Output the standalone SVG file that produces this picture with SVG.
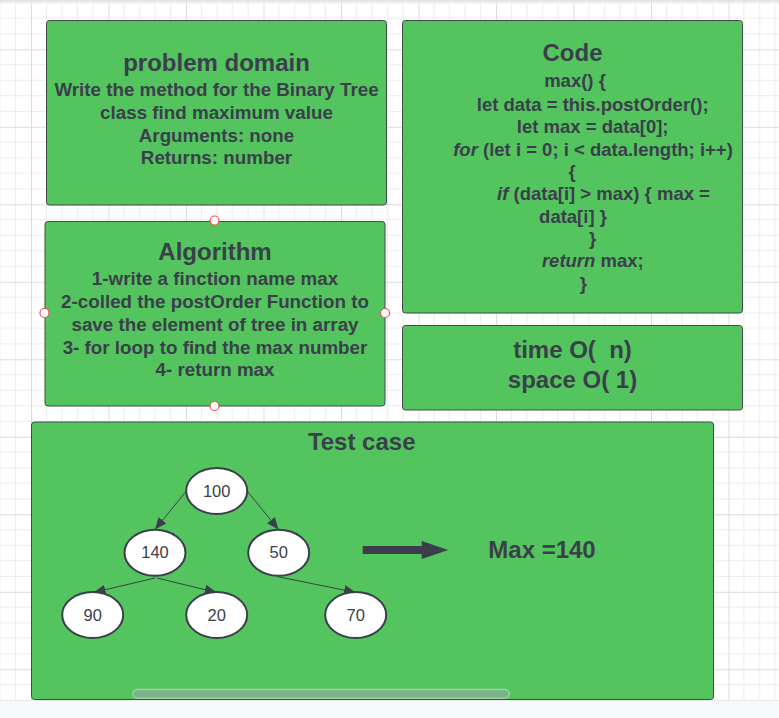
<svg xmlns="http://www.w3.org/2000/svg" width="779" height="718" viewBox="0 0 779 718">
<defs>
<pattern id="grid" x="-46.5" y="-28.2" width="77.5" height="77.5" patternUnits="userSpaceOnUse">
<path d="M15.5 0V77.5M31 0V77.5M46.5 0V77.5M62 0V77.5M0 15.5H77.5M0 31H77.5M0 46.5H77.5M0 62H77.5" stroke="#ececec" stroke-width="1" fill="none"/>
<path d="M0.5 0V77.5M0 0.5H77.5" stroke="#dcdcdc" stroke-width="1" fill="none"/>
</pattern>
<linearGradient id="topbar" x1="0" y1="0" x2="0" y2="1">
<stop offset="0" stop-color="#dedede"/>
<stop offset="1" stop-color="#ffffff" stop-opacity="0"/>
</linearGradient>
<marker id="ah" viewBox="0 0 12 10" refX="12" refY="5" markerWidth="12" markerHeight="10" markerUnits="userSpaceOnUse" orient="auto">
<path d="M0 0L12 5L0 10Z" fill="#3a3f4b"/>
</marker>
<style>
.box{fill:#54c45e;stroke:#3f4a4c;stroke-width:1}
.t{font-family:"Liberation Sans",Arial,sans-serif;font-weight:bold;fill:#3a3f4b;text-anchor:middle;white-space:pre}
.h{font-size:24px}
.b{font-size:18.8px}
.c{font-size:18.5px}
.n{font-family:"Liberation Sans",Arial,sans-serif;font-size:16.5px;fill:#3a3f4b;text-anchor:middle}
.node{fill:#ffffff;stroke:#3a3f4b;stroke-width:2}
.edge{stroke:#3a3f4b;stroke-width:1;fill:none;marker-end:url(#ah)}
.port{fill:#ffffff;stroke:#e8525a;stroke-width:1.2}
</style>
</defs>
<rect x="0" y="0" width="779" height="718" fill="#ffffff"/>
<rect x="0" y="0" width="779" height="700" fill="url(#grid)"/>
<rect x="0" y="0" width="779" height="6" fill="url(#topbar)"/>
<rect x="0" y="700" width="779" height="18" fill="#f7f9fb"/>
<line x1="0" y1="700.5" x2="779" y2="700.5" stroke="#e4e7eb"/>

<g id="problem-domain">
<rect class="box" x="46.5" y="20.5" width="340" height="184.5" rx="3"/>
<text class="t h" x="216.5" y="71">problem domain</text>
<text class="t b" x="216.5" y="95.5">Write the method for the Binary Tree</text>
<text class="t b" x="216.5" y="118.5">class find maximum value</text>
<text class="t b" x="216.5" y="141.5">Arguments: none</text>
<text class="t b" x="216.5" y="164">Returns: number</text>
</g>

<g id="code">
<rect class="box" x="402.5" y="20.5" width="340" height="292.5" rx="3"/>
<text class="t h" x="572.5" y="61">Code</text>
<text class="t c" x="575" y="87">max() {</text>
<text class="t c" x="592.7" y="110.5">let data = this.postOrder();</text>
<text class="t c" x="592.7" y="133">let max = data[0];</text>
<text class="t c" x="593" y="155.5"><tspan font-style="italic">for</tspan> (let i = 0; i &lt; data.length; i++)</text>
<text class="t c" x="572" y="178">{</text>
<text class="t c" x="603.5" y="200"><tspan font-style="italic">if</tspan> (data[i] &gt; max) { max =</text>
<text class="t c" x="573" y="222.5">data[i] }</text>
<text class="t c" x="592.7" y="245">}</text>
<text class="t c" x="592.8" y="266.5"><tspan font-style="italic">return</tspan> max;</text>
<text class="t c" x="583.3" y="290">}</text>
</g>

<g id="algorithm">
<rect class="box" x="45" y="221.5" width="340" height="184.5" rx="3"/>
<text class="t h" x="215" y="260">Algorithm</text>
<text class="t b" x="215" y="285">1-write a finction name max</text>
<text class="t b" x="215" y="308">2-colled the postOrder Function to</text>
<text class="t b" x="215" y="330.5">save the element of tree in array</text>
<text class="t b" x="215" y="353.5">3- for loop to find the max number</text>
<text class="t b" x="215" y="375.5">4- return max</text>
<circle class="port" cx="214.5" cy="220.5" r="4.5"/>
<circle class="port" cx="44.5" cy="313" r="4.5"/>
<circle class="port" cx="385" cy="313" r="4.5"/>
<circle class="port" cx="214.5" cy="406" r="4.5"/>
</g>

<g id="complexity">
<rect class="box" x="402.5" y="325.5" width="340" height="84.5" rx="3"/>
<text class="t h" x="572.5" y="358" xml:space="preserve">time O(  n)</text>
<text class="t h" x="572.5" y="387.5">space O( 1)</text>
</g>

<g id="test-case">
<rect class="box" x="31.5" y="422" width="682" height="277.5" rx="3"/>
<text class="t h" x="361.7" y="450">Test case</text>
<text class="t h" x="488.3" y="558" style="text-anchor:start">Max =140</text>
<rect x="132.7" y="689.3" width="376.6" height="9" rx="4.5" fill="#7ab488" stroke="#b7dcbc" stroke-width="1"/>
</g>

<g id="connectors">
<line class="edge" x1="185.5" y1="492" x2="155" y2="529.5"/>
<line class="edge" x1="248" y1="492" x2="278.5" y2="529.5"/>
<line class="edge" x1="155" y1="578" x2="93.5" y2="592.5"/>
<line class="edge" x1="157" y1="578" x2="216.7" y2="592.5"/>
<line class="edge" x1="277" y1="576.5" x2="356" y2="592.5"/>
<rect x="362.7" y="546" width="59.5" height="8" fill="#3a3f4b"/>
<path d="M421.7 541L448.3 550L421.7 559Z" fill="#3a3f4b"/>
</g>

<g id="n100"><ellipse class="node" cx="216.7" cy="491" rx="30.5" ry="23"/><text class="n" x="216.7" y="496.7">100</text></g>
<g id="n140"><ellipse class="node" cx="155" cy="552.7" rx="30.5" ry="23"/><text class="n" x="155" y="558.4">140</text></g>
<g id="n50"><ellipse class="node" cx="278.7" cy="552.7" rx="30.5" ry="23"/><text class="n" x="278.7" y="558.4">50</text></g>
<g id="n90"><ellipse class="node" cx="92.7" cy="615" rx="30.5" ry="23"/><text class="n" x="92.7" y="620.7">90</text></g>
<g id="n20"><ellipse class="node" cx="216.7" cy="615" rx="30.5" ry="23"/><text class="n" x="216.7" y="620.7">20</text></g>
<g id="n70"><ellipse class="node" cx="355.7" cy="615" rx="30.5" ry="23"/><text class="n" x="355.7" y="620.7">70</text></g>
</svg>
